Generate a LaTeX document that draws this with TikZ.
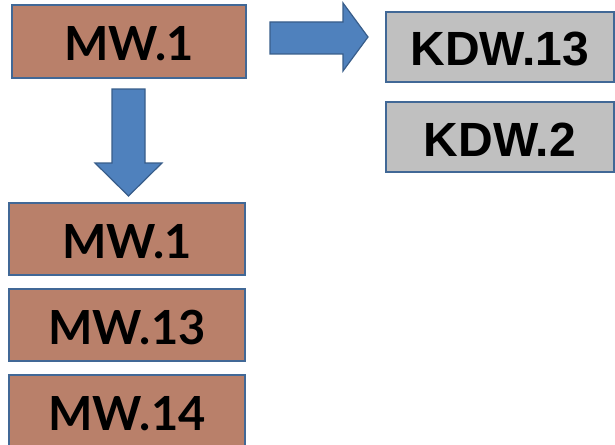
\documentclass[tikz,border=0pt]{standalone}
\usepackage{fontspec}
\newfontfamily\latofont{Lato}
\newfontfamily\arialfont{Liberation Sans}
\definecolor{brownfill}{RGB}{185,128,106}
\definecolor{grayfill}{RGB}{192,192,192}
\definecolor{boxline}{RGB}{65,104,150}
\definecolor{arrowfill}{RGB}{79,129,189}
\definecolor{arrowline}{RGB}{56,93,138}
\tikzset{
  basebox/.style={draw=boxline, line width=2pt, inner sep=0pt, anchor=center,
    text height=38pt, text depth=0pt},
  mwbox/.style={basebox, fill=brownfill, minimum width=234pt,
    font=\latofont\bfseries\fontsize{47}{47}\selectfont},
  kdwbox/.style={basebox, fill=grayfill, minimum width=228pt, minimum height=70pt,
    font=\arialfont\bfseries\fontsize{48}{48}\selectfont},
  blockarrow/.style={fill=arrowfill, draw=arrowline, line width=1.2pt, line join=miter}
}
\begin{document}
\begin{tikzpicture}[x=1pt,y=-1pt]
\useasboundingbox (0,0) rectangle (615,444);
\node[mwbox, minimum height=73pt] (top) at (129,41.5) {MW.1};
\node[kdwbox] (k13) at (500,47) {KDW.13};
\node[kdwbox] (k2) at (500,137) {KDW.2};
\node[mwbox, minimum width=236pt, minimum height=72pt] (m1) at (127,239) {MW.1};
\node[mwbox, minimum width=236pt, minimum height=72pt] (m13) at (127,325) {MW.13};
\node[mwbox, minimum width=236pt, minimum height=72pt] (m14) at (127,411) {MW.14};
% right block arrow
\draw[blockarrow] (270,22) -- (343,22) -- (343,3) -- (368,37) -- (343,71) -- (343,54) -- (270,54) -- cycle;
% down block arrow
\draw[blockarrow] (112,89) -- (145,89) -- (145,163) -- (162,163) -- (128.5,196) -- (95,163) -- (112,163) -- cycle;
\end{tikzpicture}
\end{document}
